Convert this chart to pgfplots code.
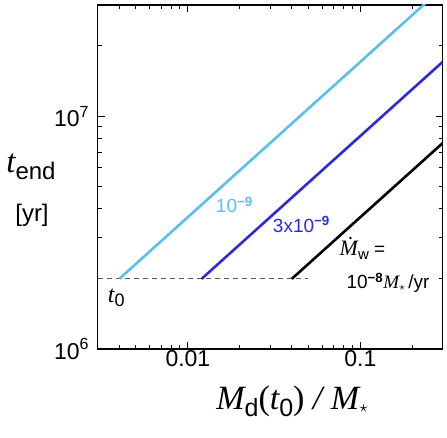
\documentclass[border=0pt]{standalone}
\usepackage{pgfplots}
\pgfplotsset{compat=1.18}
\usepackage{fontspec}
\setmainfont{Liberation Sans}
\newfontfamily\tnr{Liberation Serif}
\definecolor{lightc}{HTML}{5BBEF0}
\definecolor{midc}{HTML}{2B2BD8}
\newcommand{\fs}[1]{\fontsize{#1}{#1}\selectfont}

\begin{document}
\begin{tikzpicture}
\path[use as bounding box] (-97.7pt,-89pt) rectangle (349.3pt,349pt);
\begin{axis}[
  scale only axis, width=345pt, height=344pt,
  xmode=log, ymode=log,
  xmin=0.003, xmax=0.3, ymin=1e6, ymax=3e7,
  xtick={0.01,0.1}, xticklabels={0.01,0.1},
  ytick={1e6,1e7}, yticklabels={10\textsuperscript{6},10\textsuperscript{7}},
  minor xtick={0.003,0.004,0.005,0.006,0.007,0.008,0.009,0.02,0.03,0.04,0.05,0.06,0.07,0.08,0.09,0.2,0.3},
  minor ytick={2e6,3e6,4e6,5e6,6e6,7e6,8e6,9e6,2e7,3e7},
  tick align=inside, major tick length=7pt, minor tick length=4pt,
  axis line style={line width=1.3pt}, every tick/.style={line width=1pt,black},
  tick label style={font=\fs{23}},
  xticklabel style={anchor=north, yshift=2pt},
  yticklabel style={anchor=east, xshift=-5pt},
  clip=true,
]
\addplot[dash pattern=on 5pt off 4pt, gray!70!black, line width=0.8pt] coordinates {(0.003,2e6) (0.05,2e6)};
\addplot[lightc, line width=2.6pt] coordinates {(0.004,2e6) (0.3,3.56e7)};
\addplot[midc, line width=2.6pt] coordinates {(0.012,2e6) (0.3,1.71e7)};
\addplot[black, line width=2.6pt] coordinates {(0.04,2e6) (0.3,7.66e6)};
\node[lightc, font=\fs{19}] at (axis cs:0.0186,4.14e6) {10\textsuperscript{\bfseries −9}};
\node[midc, font=\fs{19}] at (axis cs:0.0455,3.43e6) {3x10\textsuperscript{\bfseries −9}};
\node[font=\fs{19}] at (axis cs:0.1028,2.71e6) {{\tnr\itshape\fs{22}\.{M}}\raisebox{-4pt}{\fs{15}w} =};
\node[font=\fs{19}] at (axis cs:0.1445,1.92e6) {10\textsuperscript{\bfseries −8}{\tnr\itshape\fs{19}M}\raisebox{-2pt}{\fs{12}$\star$}\,/yr};
\node[font=\fs{24}] at (axis cs:0.00384,1.66e6) {{\tnr\itshape t}\raisebox{-4pt}{\fs{18}0}};
\end{axis}
\node[anchor=center] at (-66.7pt,182pt) {{\fs{33}\tnr\itshape t}\raisebox{-7pt}{\fs{24}end}};
\node[anchor=center, font=\fs{24}] at (-65.7pt,134pt) {[yr]};
\node[anchor=base] at (194.3pt,-61pt) {\fs{34}{\tnr\itshape M}\raisebox{-7pt}{\fs{25}d}{\tnr(\itshape t}\raisebox{-7pt}{\fs{25}0}{\tnr) \itshape/ M}\raisebox{-3pt}{\fs{16}$\star$}};
\end{tikzpicture}
\end{document}
